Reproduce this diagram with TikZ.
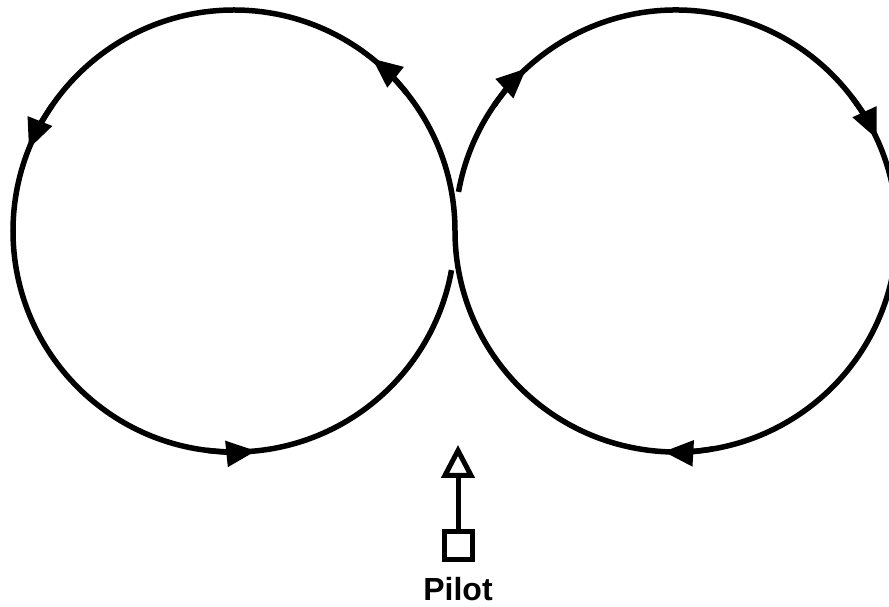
\documentclass[tikz,border=0pt]{standalone}
\usepackage{fontspec}
\setmainfont{Liberation Sans}
\usetikzlibrary{arrows.meta}
\tikzset{
  loopline/.style={line width=5.5pt, black},
  headarc/.style={line width=5.5pt, black, -{Triangle[length=30pt,width=25pt]}},
  pilotbox/.style={draw, line width=5pt, minimum size=28pt, inner sep=0pt},
  pilotarrow/.style={line width=5pt, -{Triangle[open, length=33pt, width=33pt, line width=5pt]}},
  pilotlabel/.style={font=\bfseries\fontsize{32}{32}\selectfont, inner sep=0pt, anchor=base}
}
\begin{document}
\begin{tikzpicture}[x=1pt,y=1pt]
\useasboundingbox (0,0) rectangle (889,607);
\clip (0,0) rectangle (889,607);
\coordinate (L) at (234,376);
\coordinate (R) at (676,376);
% figure-eight path: right circle (clockwise) then left circle (counterclockwise)
\draw[loopline] (R) ++(169.8:221) arc[start angle=169.8, end angle=-180, radius=221]
  arc[start angle=0, end angle=349.8, radius=221];
% arrowheads on left circle (counterclockwise)
\foreach \a in {47.5,154.4,272} {
  \draw[headarc] (L) ++(\a-9:221) arc[start angle=\a-9, end angle=\a+3.8, radius=221];
}
% arrowheads on right circle (clockwise)
\foreach \a in {136.4,28.4,270.5} {
  \draw[headarc] (R) ++(\a+9:221) arc[start angle=\a+9, end angle=\a-3.8, radius=221];
}
% pilot
\node[pilotbox] (box) at (458,61) {};
\coordinate (tip) at (458,162);
\draw[pilotarrow] (box.north) -- (tip);
\node[pilotlabel] (pilot) at (458,6) {Pilot};
\end{tikzpicture}
\end{document}
